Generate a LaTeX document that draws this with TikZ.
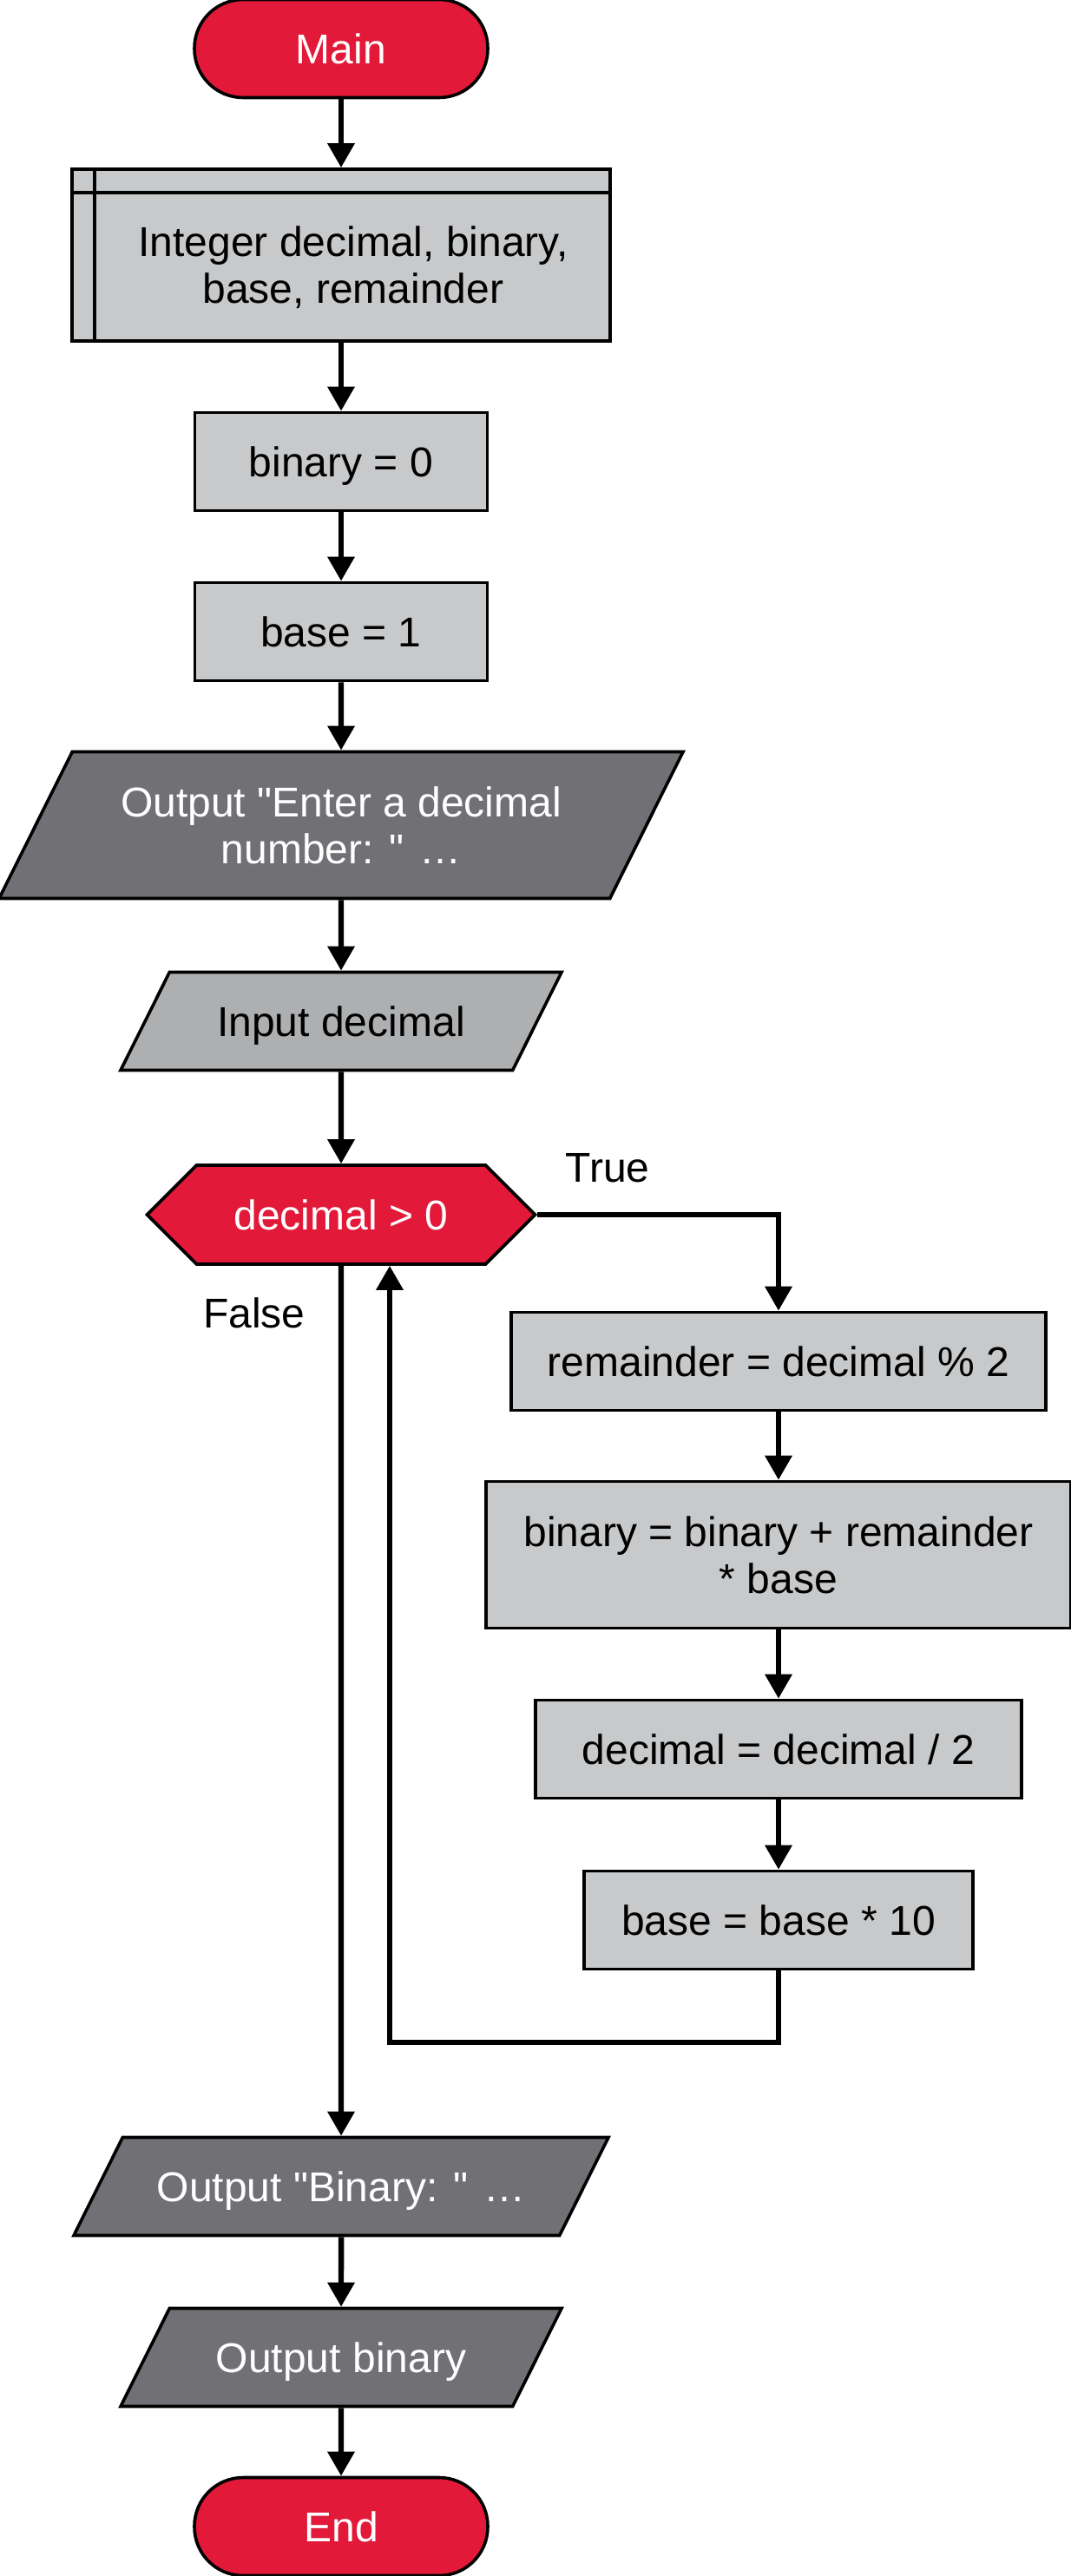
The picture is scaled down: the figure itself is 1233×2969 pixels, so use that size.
\documentclass[tikz,border=0pt]{standalone}
\usepackage{fontspec}
\setmainfont{Liberation Sans}
\usetikzlibrary{arrows.meta,shapes.geometric,shapes.symbols}
\definecolor{flowred}{RGB}{227,25,57}
\definecolor{boxgray}{RGB}{200,201,203}
\definecolor{ingray}{RGB}{174,175,177}
\definecolor{outgray}{RGB}{113,112,117}
\begin{document}
\begin{tikzpicture}[x=0.5pt, y=-0.5pt, >={Triangle[width=15pt,length=14pt]},
		every node/.style={font=\fontsize{24}{27}\selectfont, align=center, inner sep=0pt},
		termbox/.style={rectangle, rounded corners=28pt, draw, line width=1.8pt, fill=flowred, text=white, text height=17.3pt, text depth=0pt, minimum width=169pt, minimum height=56.5pt},
		procbox/.style={rectangle, draw, line width=1.8pt, fill=boxgray, text height=17.3pt, text depth=0pt, minimum height=56.5pt},
		iobox/.style={trapezium, trapezium left angle=63.5, trapezium right angle=116.5, trapezium stretches body, draw, line width=1.8pt, text height=17.3pt, text depth=0pt, inner ysep=19.6pt},
		condbox/.style={signal, signal to=east and west, signal pointer angle=90, draw, line width=1.8pt, fill=flowred, text=white, text height=17.3pt, text depth=0pt, minimum width=223.5pt, minimum height=57pt},
		flow/.style={->, line width=3.2pt}]
		\useasboundingbox (0,0) rectangle (1233,2969);
		
		\node[termbox] (main) at (393,56) {Main};
		\node[procbox, minimum width=310pt, minimum height=99pt] (decl) at (393,294) {};
		\draw[line width=1.8pt] ([yshift=-14.5pt]decl.north west) -- ([yshift=-14.5pt]decl.north east);
		\draw[line width=1.8pt] ([xshift=14pt]decl.north west) -- ([xshift=14pt]decl.south west);
		\node (decltext) at ([xshift=7pt,yshift=-7.25pt]decl.center) {Integer decimal, binary,\\base, remainder};
		\node[procbox, minimum width=168.5pt] (binzero) at (393,532) {binary = 0};
		\node[procbox, minimum width=168.5pt] (baseone) at (393,728) {base = 1};
		\node[iobox, fill=outgray, text=white, text height=44.3pt, inner ysep=20.1pt, minimum width=394pt] (askdec) at (393,951) {Output \textquotedbl Enter a decimal\\number: \textquotedbl{} …};
		\node[iobox, fill=ingray, minimum width=254pt] (indec) at (393,1177) {Input decimal};
		\node[condbox] (cond) at (393,1400) {decimal > 0};
		\node (truelbl) at (700,1346) {True};
		\node (falselbl) at (293,1513) {False};
		
		\node[procbox, minimum width=308pt] (rem) at (897,1569) {remainder = decimal \% 2};
		\node[procbox, text depth={}, text height={}, minimum width=337pt, minimum height=84.5pt] (binupd) at (897,1792) {binary = binary + remainder\\* base};
		\node[procbox, minimum width=280pt] (decdiv) at (897,2016) {decimal = decimal / 2};
		\node[procbox, minimum width=224pt] (basemul) at (897,2213) {base = base * 10};
		
		\node[iobox, fill=outgray, text=white, minimum width=308pt] (outtxt) at (393,2520) {Output \textquotedbl Binary: \textquotedbl{} …};
		\node[iobox, fill=outgray, text=white, minimum width=254pt] (outbin) at (393,2717) {Output binary};
		\node[termbox] (finish) at (393,2912) {End};
		
		\draw[flow] (main) -- (decl);
		\draw[flow] (decl) -- (binzero);
		\draw[flow] (binzero) -- (baseone);
		\draw[flow] (baseone) -- (askdec);
		\draw[flow] (askdec) -- (indec);
		\draw[flow] (indec) -- (cond);
		\draw[flow] (cond.east) -| (rem.north);
		\draw[flow] (rem) -- (binupd);
		\draw[flow] (binupd) -- (decdiv);
		\draw[flow] (decdiv) -- (basemul);
		\coordinate (loopc) at (449,2354);
		\draw[flow] (basemul.south) |- (loopc) -- (loopc |- cond.south);
		\draw[flow] (cond.south) -- (outtxt.north);
		\draw[flow] (outtxt) -- (outbin);
		\draw[flow] (outbin) -- (finish);
	\end{tikzpicture}
\end{document}
